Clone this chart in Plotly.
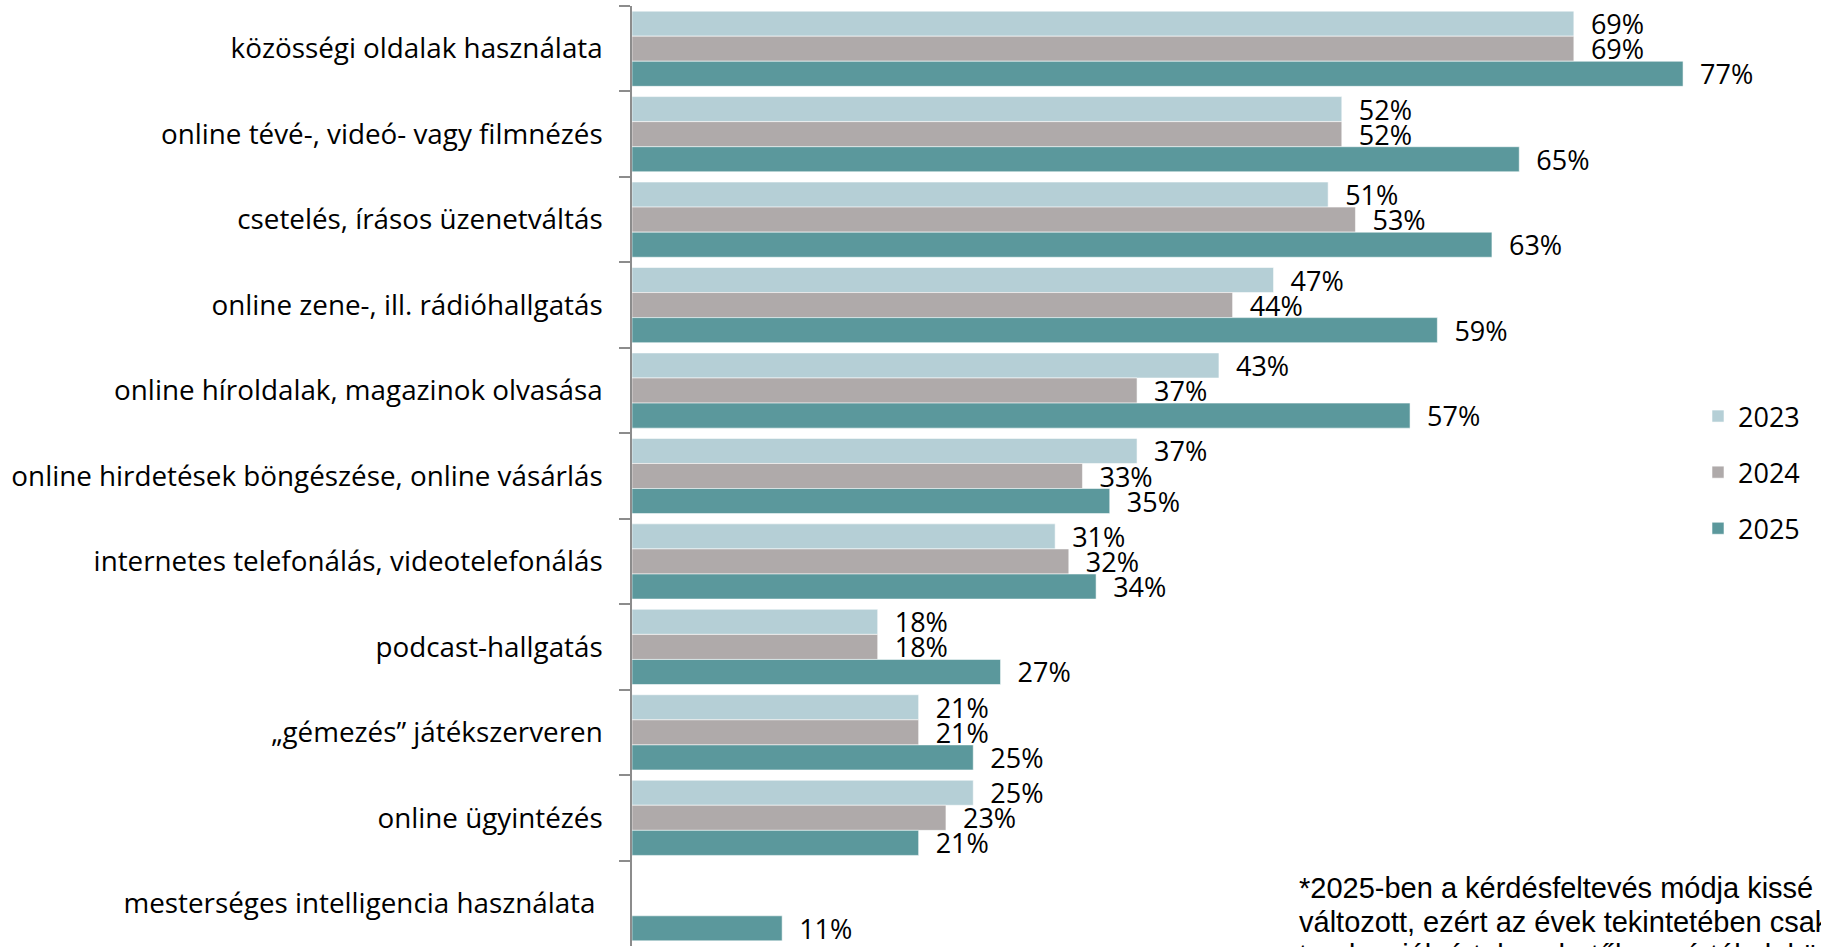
import plotly.graph_objects as go

categories = [
    "közösségi oldalak használata",
    "online tévé-, videó- vagy filmnézés",
    "csetelés, írásos üzenetváltás",
    "online zene-, ill. rádióhallgatás",
    "online híroldalak, magazinok olvasása",
    "online hirdetések böngészése, online vásárlás",
    "internetes telefonálás, videotelefonálás",
    "podcast-hallgatás",
    "„gémezés” játékszerveren",
    "online ügyintézés",
    "mesterséges intelligencia használata\u00a0",
]
values_2023 = [69, 52, 51, 47, 43, 37, 31, 18, 21, 25, None]
values_2024 = [69, 52, 53, 44, 37, 33, 32, 18, 21, 23, None]
values_2025 = [77, 65, 63, 59, 57, 35, 34, 27, 25, 21, 11]
years = ["2023", "2024", "2025"]
colors = ["#B5CFD6", "#AFAAAA", "#5B989C"]
footnote_lines = [
    "*2025-ben a kérdésfeltevés módja kissé",
    "változott, ezért az évek tekintetében csak",
    "tendenciák értelmezhetők, az értékek közvetlenül nem összehasonlíthatók.",
]

FONT = "Open Sans"
W, H = 1821, 947
ML, MT, MB = 632, 6, 1

fig = go.Figure()
for name, vals, col in zip(years, [values_2023, values_2024, values_2025], colors):
    fig.add_trace(go.Bar(
        name=name, y=categories, x=vals, orientation="h",
        marker=dict(color=col, line=dict(color="rgba(255,255,255,0.55)", width=1)),
        texttemplate="\u00a0\u00a0%{x}%", textposition="outside",
        textfont=dict(family=FONT, size=27, color="#000000"),
        cliponaxis=False, constraintext="none",
        legendgroup=name,
    ))

ph = H - MT - MB
def py(p):
    return (H - MB - p) / ph

annotations = []
for i, line in enumerate(footnote_lines):
    annotations.append(dict(
        text=line, xref="paper", yref="paper",
        x=(1297 - ML) / (W - ML), y=py(888 + 33.5 * i),
        xanchor="left", yanchor="middle", showarrow=False,
        font=dict(family="Liberation Sans, Arial", size=29, color="#000000"),
    ))

fig.update_layout(
    width=W, height=H,
    margin=dict(l=ML, r=0, t=MT, b=MB, pad=0),
    paper_bgcolor="white", plot_bgcolor="white",
    barmode="group", bargap=0.12, bargroupgap=0,
    showlegend=True,
    legend=dict(
        x=(1698 - ML) / (W - ML), y=py(392), xanchor="left", yanchor="top",
        font=dict(family=FONT, size=27, color="#000000"),
        traceorder="grouped", tracegroupgap=18,
        bgcolor="rgba(0,0,0,0)",
    ),
    xaxis=dict(range=[0, (W - ML) / 13.65], visible=False, fixedrange=True),
    yaxis=dict(
        autorange="reversed", showline=True, linecolor="#8C8C8C", linewidth=1.5,
        ticks="outside", ticklen=11, tickcolor="#8C8C8C", tickwidth=1.5,
        tickson="boundaries", showgrid=False,
        tickfont=dict(family=FONT, size=27.8, color="#000000"),
        ticklabelstandoff=22, automargin=False,
    ),
    annotations=annotations,
)

fig.write_html("out.html", config={"displayModeBar": False},
               post_script="document.body.style.margin='0';")
